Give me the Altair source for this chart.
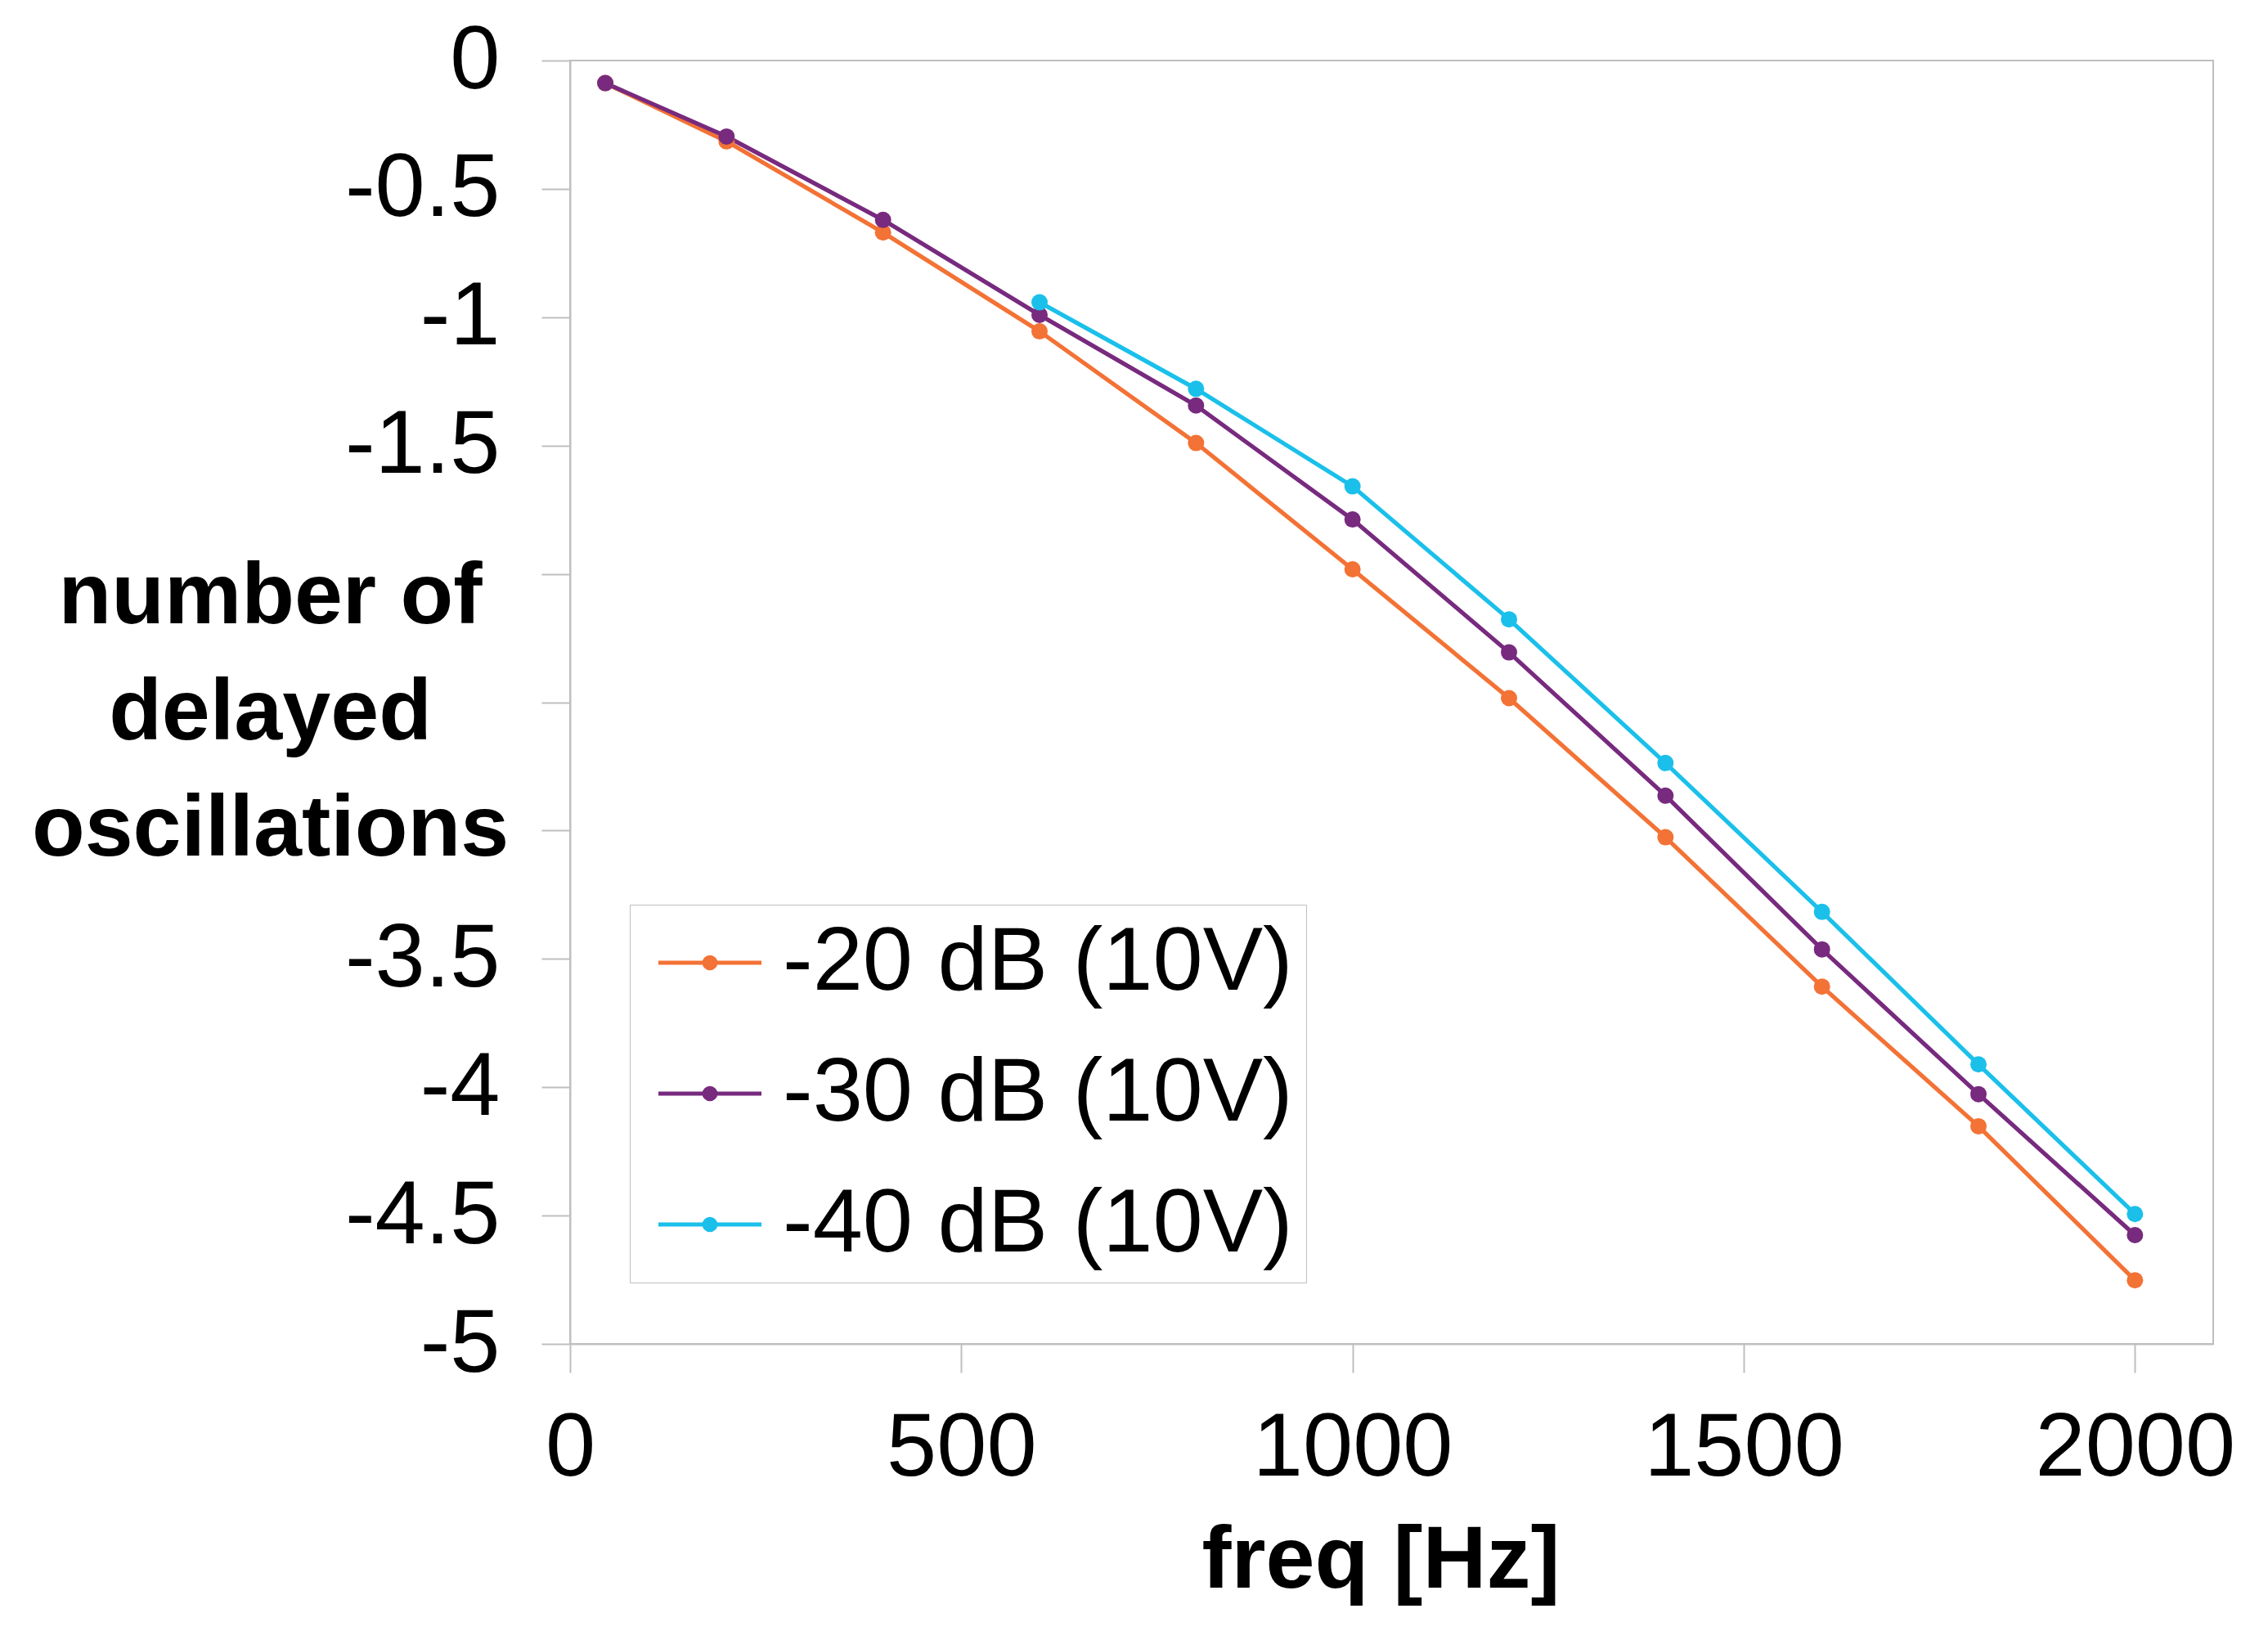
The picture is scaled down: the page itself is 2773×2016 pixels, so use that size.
import altair as alt
import pandas as pd

series_names = ["-20 dB (10V)", "-30 dB (10V)", "-40 dB (10V)"]
series_colors = ["#F37235", "#772A7E", "#1AC0EA"]

freq_20 = [45, 200, 400, 600, 800, 1000, 1200, 1400, 1600, 1800, 2000]
osc_20 = [-0.088, -0.315, -0.670, -1.055, -1.490, -1.982, -2.484, -3.026, -3.608, -4.152, -4.752]

freq_30 = [45, 200, 400, 600, 800, 1000, 1200, 1400, 1600, 1800, 2000]
osc_30 = [-0.088, -0.296, -0.621, -0.991, -1.344, -1.788, -2.306, -2.864, -3.463, -4.027, -4.576]

freq_40 = [600, 800, 1000, 1200, 1400, 1600, 1800, 2000]
osc_40 = [-0.942, -1.279, -1.659, -2.177, -2.737, -3.317, -3.911, -4.494]

x_ticks = [0, 500, 1000, 1500, 2000]
y_ticks = [0, -0.5, -1, -1.5, -2, -2.5, -3, -3.5, -4, -4.5, -5]

rows = []
for name, fs, vs in zip(series_names, [freq_20, freq_30, freq_40], [osc_20, osc_30, osc_40]):
    for f, v in zip(fs, vs):
        rows.append({"series": name, "freq": f, "osc": v})
df = pd.DataFrame(rows)

FONT = "Liberation Sans"
GRAY = "#BFBFBF"

def ring(r):
    return f"M-{r},0A{r},{r},0,1,0,{r},0A{r},{r},0,1,0,-{r},0"

legend_path = "M-1.4,0L1.4,0" + ring(0.15) + ring(0.08) + ring(0.02)

x_enc = alt.X(
    "freq:Q",
    scale=alt.Scale(domain=[0, 2100], nice=False),
    axis=alt.Axis(
        values=x_ticks,
        title="freq [Hz]",
        labelExpr="'' + datum.value",
        grid=False,
        tickSize=35,
        labelPadding=38,
        labelFontSize=110,
        labelFont=FONT,
        labelColor="black",
        labelLimit=1000,
        labelFlush=False,
        labelOverlap=False,
        titleFont=FONT,
        titleFontSize=108,
        titleFontWeight="bold",
        titleColor="black",
        titleAlign="center",
        titleBaseline="middle",
        titleX=991,
        titleY=265,
    ),
)

y_enc = alt.Y(
    "osc:Q",
    scale=alt.Scale(domain=[-5, 0], nice=False, zero=False),
    axis=alt.Axis(
        values=y_ticks,
        title=["number of", "delayed", "oscillations"],
        labelExpr="(datum.value <= -1.99 && datum.value >= -3.01) ? '' : ('' + datum.value)",
        grid=False,
        tickSize=35,
        labelPadding=51,
        labelFontSize=110,
        labelFont=FONT,
        labelColor="black",
        labelLimit=1000,
        labelFlush=False,
        labelOverlap=False,
        titleFont=FONT,
        titleFontSize=106,
        titleFontWeight="bold",
        titleColor="black",
        titleAngle=0,
        titleAlign="center",
        titleBaseline="middle",
        titleLineHeight=142,
        titleX=-367,
        titleY=655,
        titleLimit=2000,
    ),
)

color_scale = alt.Scale(domain=series_names, range=series_colors)

lines = alt.Chart(df).mark_line(strokeWidth=5.2).encode(
    x=x_enc,
    y=y_enc,
    color=alt.Color(
        "series:N",
        scale=color_scale,
        sort=series_names,
        legend=alt.Legend(
            title=None,
            orient="none",
            legendX=73,
            legendY=1032,
            direction="vertical",
            symbolType=legend_path,
            symbolSize=8100,
            symbolStrokeWidth=5.2,
            symbolOffset=27,
            labelOffset=34,
            labelFontSize=110,
            labelFont=FONT,
            labelColor="black",
            labelLimit=2000,
            rowPadding=50,
            padding=16,
            strokeColor=GRAY,
            fillColor="white",
        ),
    ),
    detail="series:N",
)

points = alt.Chart(df).mark_point(filled=True, size=400, opacity=1).encode(
    x=alt.X("freq:Q"),
    y=alt.Y("osc:Q"),
    color=alt.Color("series:N", scale=color_scale, legend=None),
)

chart = (
    alt.layer(lines, points)
    .properties(
        width=2009,
        height=1569,
        autosize=alt.AutoSizeParams(type="none"),
        padding={"left": 689, "top": 66, "right": 50, "bottom": 340},
        background="white",
    )
    .configure_view(stroke=GRAY, strokeWidth=2)
    .configure_axis(domainColor=GRAY, tickColor=GRAY, domainWidth=2, tickWidth=2)
)

chart.save("out.html", embed_options={"renderer": "svg", "actions": False})
